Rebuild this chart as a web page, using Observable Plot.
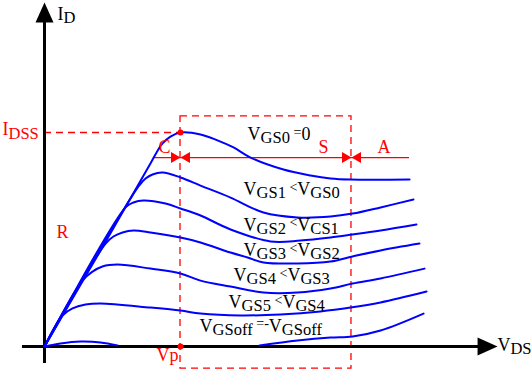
<!DOCTYPE html>
<html>
<head>
<meta charset="utf-8">
<script src="https://cdn.jsdelivr.net/npm/d3@7"></script>
<script src="https://cdn.jsdelivr.net/npm/@observablehq/plot@0.6"></script>
<style>
  html, body { margin: 0; padding: 0; background: #fff; }
</style>
</head>
<body>
<script>
// ---- Data (VDS normalised to Vp = 1, ID normalised to IDSS = 1) ----
const curveVGS0 = [[0,0],[0.412,0.449],[0.779,0.855],[0.824,0.907],[0.868,0.949],[0.926,0.981],[1.0,1.0],[1.147,0.991],[1.272,0.963],[1.390,0.930],[1.515,0.883],[1.757,0.827],[1.956,0.799],[2.103,0.785],[2.25,0.780],[2.684,0.780]];
const curveVGS1 = [[0,0],[0.691,0.748],[0.743,0.785],[0.794,0.804],[0.868,0.813],[1.0,0.790],[1.147,0.752],[1.368,0.696],[1.610,0.626],[1.860,0.603],[2.103,0.607],[2.265,0.621],[2.471,0.650],[2.713,0.687]];
const curveVGS2 = [[0,0],[0.596,0.650],[0.654,0.673],[0.728,0.682],[0.890,0.668],[1.0,0.645],[1.147,0.612],[1.368,0.547],[1.662,0.491],[1.882,0.495],[2.103,0.509],[2.265,0.523],[2.471,0.542],[2.735,0.570]];
const curveVGS3 = [[0,0],[0.449,0.481],[0.507,0.514],[0.574,0.533],[0.654,0.542],[0.779,0.533],[1.0,0.509],[1.147,0.486],[1.368,0.439],[1.493,0.416],[1.610,0.393],[1.860,0.388],[2.103,0.397],[2.265,0.421],[2.471,0.449],[2.757,0.481]];
const curveVGS4 = [[0,0],[0.279,0.308],[0.353,0.350],[0.426,0.374],[0.537,0.383],[0.779,0.364],[1.0,0.341],[1.147,0.308],[1.368,0.280],[1.610,0.252],[1.860,0.252],[2.103,0.271],[2.265,0.294],[2.471,0.318],[2.794,0.364]];
const curveVGS5 = [[0,0],[0.132,0.145],[0.206,0.178],[0.301,0.196],[0.412,0.201],[0.779,0.182],[1.0,0.168],[1.147,0.154],[1.441,0.145],[1.735,0.150],[2.029,0.164],[2.25,0.182],[2.471,0.206],[2.809,0.257]];
const curveVGSoff = [[0,0],[0.118,0.014],[0.265,0.023],[0.412,0.019],[0.537,0.005],[null,null],[1.581,0.005],[1.860,0.028],[2.103,0.042],[2.265,0.047],[2.471,0.075],[2.787,0.154]];

const seriesNames = ["VGS0","VGS1","VGS2","VGS3","VGS4","VGS5","VGSoff"];
const seriesData = [curveVGS0, curveVGS1, curveVGS2, curveVGS3, curveVGS4, curveVGS5, curveVGSoff];

// curve labels (markup: _{sub}, ^{raised})
const curveLabelText = [
  "V_{GS0}^{\u00a0=}0",
  "V_{GS1}^{\u00a0<}V_{GS0}",
  "V_{GS2}^{\u00a0<}V_{CS1}",
  "V_{GS3}^{\u00a0<}V_{GS2}",
  "V_{GS4}^{\u00a0<}V_{GS3}",
  "V_{GS5}^{\u00a0<}V_{GS4}",
  "V_{GSoff}^{\u00a0=-}V_{GSoff}"
];
const curveLabelVDS = [1.493, 1.463, 1.463, 1.463, 1.390, 1.353, 1.140];
const curveLabelID  = [0.967, 0.710, 0.542, 0.425, 0.308, 0.182, 0.070];

// key points
const Vp = 1, IDSS = 1;
const saturationEnd = 2.257;       // right edge of the saturation box (S)
const boxBottom = -0.103, boxTop = 1.075;
const markerLineID = 0.883, markerLineStart = 0.801, markerLineEnd = 2.684;

// region / annotation labels
const redLabelText = ["I_{DSS}", "C", "S", "A", "R", "Vp"];
const redLabelVDS  = [-0.309, 0.838, 2.015, 2.449, 0.088, 0.824];
const redLabelID   = [0.986, 0.902, 0.902, 0.902, 0.509, -0.070];

const axisLabelText = ["I_{D}", "V_{DS}"];
const axisLabelVDS  = [0.096, 3.330];
const axisLabelID   = [1.528, -0.019];

// axis extents
const xAxisFrom = -0.162, xAxisTip = 3.331;
const yAxisFrom = -0.079, yAxisTip = 1.607;

// ---- Build tables ----
const curveRows = seriesNames.flatMap((s, i) => seriesData[i].map(([vds, id]) => ({s, vds, id})));
const curveLabels = curveLabelText.map((t, i) => ({t, x: curveLabelVDS[i], y: curveLabelID[i]}));
const redLabels = redLabelText.map((t, i) => ({t, x: redLabelVDS[i], y: redLabelID[i]}));
const axisLabels = axisLabelText.map((t, i) => ({t, x: axisLabelVDS[i], y: axisLabelID[i]}));

const headSymbol = (len, half) => ({
  draw(ctx) { ctx.moveTo(0, 0); ctx.lineTo(half, len); ctx.lineTo(-half, len); ctx.closePath(); }
});
const bigHead = headSymbol(20, 9);
const smallHead = headSymbol(9.5, 5.5);

const serifStack = "'Liberation Serif', 'DejaVu Serif', serif";

const chart = Plot.plot({
  width: 532,
  height: 378,
  margin: 0,
  x: {domain: [-0.3235, 3.588], axis: null},
  y: {domain: [-0.1495, 1.6168], axis: null},
  style: {background: "white"},
  marks: [
    // dashed guides
    Plot.ruleY([IDSS], {x1: 0, x2: Vp, stroke: "red", strokeWidth: 1.3, strokeDasharray: "7,5"}),
    Plot.rect([{x1: Vp, x2: saturationEnd, y1: boxBottom, y2: boxTop}], {x1: "x1", x2: "x2", y1: "y1", y2: "y2", fill: "none", stroke: "red", strokeWidth: 1.3, strokeDasharray: "7,5"}),
    // red marker line with arrows
    Plot.ruleY([markerLineID], {x1: markerLineStart, x2: markerLineEnd, stroke: "red", strokeWidth: 1.2}),
    Plot.dot([Vp, saturationEnd], {x: d => d, y: markerLineID, symbol: smallHead, rotate: 90, fill: "red", stroke: "none"}),
    Plot.dot([Vp, saturationEnd], {x: d => d, y: markerLineID, symbol: smallHead, rotate: -90, fill: "red", stroke: "none"}),
    // axes
    Plot.ruleY([0], {x1: xAxisFrom, x2: xAxisTip - 0.1, stroke: "black", strokeWidth: 3}),
    Plot.ruleX([0], {y1: yAxisFrom, y2: yAxisTip - 0.06, stroke: "black", strokeWidth: 3}),
    Plot.dot([0], {x: xAxisTip, y: 0, symbol: bigHead, rotate: 90, fill: "black", stroke: "none"}),
    Plot.dot([0], {x: 0, y: yAxisTip, symbol: bigHead, rotate: 0, fill: "black", stroke: "none"}),
    // curves
    Plot.line(curveRows, {x: "vds", y: "id", z: "s", stroke: "blue", strokeWidth: 2, curve: "catmull-rom"}),
    // red points
    Plot.dot([[Vp, IDSS], [Vp, 0]], {x: d => d[0], y: d => d[1], r: 3, fill: "red", stroke: "none"}),
    // labels
    Plot.text(curveLabels, {x: "x", y: "y", text: "t", textAnchor: "start", lineAnchor: "bottom", fontSize: 18, fill: "black"}),
    Plot.text(redLabels, {x: "x", y: "y", text: "t", textAnchor: "start", lineAnchor: "bottom", fontSize: 18, fill: "red"}),
    Plot.text(axisLabels, {x: "x", y: "y", text: "t", textAnchor: "start", lineAnchor: "bottom", fontSize: 18, fill: "black"})
  ]
});
document.body.appendChild(chart);

// rich text: _{...} subscript, ^{...} raised small
const NS = "http://www.w3.org/2000/svg";
d3.select(chart).selectAll("text").each(function () {
  this.style.fontFamily = serifStack;
  const s = this.textContent;
  if (!/[_^]\{/.test(s)) return;
  const base = parseFloat(getComputedStyle(this).fontSize) || 18;
  this.textContent = "";
  const re = /([_^])\{([^}]*)\}|([^_^]+)/g;
  let m, cur = 0;
  while ((m = re.exec(s))) {
    let txt, size, off;
    if (m[1] === "_") { txt = m[2]; size = base * 0.92; off = base * 0.2; }
    else if (m[1] === "^") { txt = m[2]; size = base * 0.78; off = -base * 0.17; }
    else { txt = m[3]; size = base; off = 0; }
    const t = document.createElementNS(NS, "tspan");
    t.setAttribute("font-size", size.toFixed(2));
    t.setAttribute("dy", (off - cur).toFixed(2));
    t.style.fontFamily = serifStack;
    cur = off;
    t.textContent = txt;
    this.appendChild(t);
  }
});
</script>
</body>
</html>
